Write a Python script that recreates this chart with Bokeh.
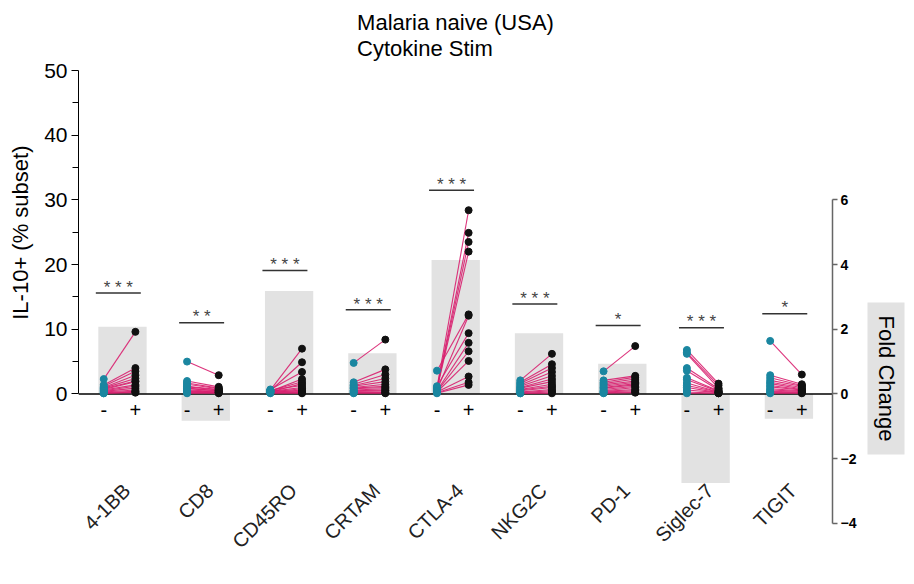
import math
from bokeh.plotting import figure
from bokeh.models import Range1d, LinearAxis, Title, FixedTicker
from bokeh.core.properties import value
from bokeh.embed import file_html
from bokeh.resources import INLINE

# ---------------- data ----------------
markers = ["4-1BB", "CD8", "CD45RO", "CRTAM", "CTLA-4", "NKG2C", "PD-1", "Siglec-7", "TIGIT"]
fold_change = [2.08, -0.83, 3.18, 1.26, 4.14, 1.88, 0.93, -2.75, -0.77]
sig_level = [15.6, 11.0, 19.1, 13.0, 31.5, 13.9, 10.6, 10.25, 12.4]
sig_text = ["* * *", "* *", "* * *", "* * *", "* * *", "* * *", "*", "* * *", "*"]

neg_4_1bb = [2.3, 1.4, 1.2, 1.0, 0.9, 0.8, 0.7, 0.6, 0.5, 0.4, 0.3, 0.2, 0.1, 0.1]
pos_4_1bb = [9.6, 4.0, 3.5, 2.9, 2.4, 2.0, 1.9, 1.4, 1.2, 0.9, 0.6, 0.4, 0.3, 0.2]
neg_cd8 = [5.0, 2.0, 1.7, 1.5, 1.2, 1.1, 0.9, 0.8, 0.6, 0.5, 0.4, 0.3, 0.2, 0.1]
pos_cd8 = [2.9, 1.1, 0.9, 0.8, 0.7, 0.6, 0.5, 0.5, 0.4, 0.3, 0.3, 0.2, 0.2, 0.1]
neg_cd45ro = [0.6, 0.5, 0.7, 0.4, 0.5, 0.3, 0.6, 0.4, 0.3, 0.2, 0.5, 0.3, 0.2, 0.1]
pos_cd45ro = [7.0, 4.9, 3.4, 2.3, 1.9, 1.6, 1.3, 1.0, 0.8, 0.6, 0.4, 0.3, 0.2, 0.1]
neg_crtam = [4.8, 1.8, 1.5, 1.3, 1.2, 1.0, 0.9, 0.8, 0.6, 0.5, 0.4, 0.3, 0.2, 0.1]
pos_crtam = [8.4, 3.8, 3.0, 2.4, 1.9, 1.5, 1.2, 1.0, 0.8, 0.6, 0.5, 0.3, 0.2, 0.1]
neg_ctla4 = [1.0, 0.9, 0.8, 0.7, 3.6, 0.6, 1.2, 0.5, 0.4, 0.3, 0.3, 0.2, 0.1]
pos_ctla4 = [28.4, 24.9, 23.5, 22.0, 12.3, 12.1, 9.4, 7.9, 6.6, 5.1, 2.7, 1.8, 1.4]
neg_nkg2c = [2.1, 1.8, 1.6, 1.4, 1.2, 1.0, 0.9, 0.7, 0.6, 0.5, 0.3, 0.2, 0.1, 0.1]
pos_nkg2c = [6.2, 4.6, 4.0, 3.4, 2.8, 2.3, 1.9, 1.5, 1.2, 1.0, 0.7, 0.5, 0.3, 0.1]
neg_pd1 = [3.5, 2.1, 1.8, 1.6, 1.4, 1.2, 1.0, 0.9, 0.7, 0.5, 0.4, 0.3, 0.2, 0.1]
pos_pd1 = [7.4, 2.8, 2.6, 2.3, 2.0, 1.8, 1.6, 1.4, 1.2, 1.0, 0.7, 0.5, 0.3, 0.2]
neg_siglec7 = [6.8, 6.4, 6.2, 4.0, 3.6, 2.5, 2.2, 1.7, 1.3, 1.0, 0.6, 0.3, 0.1]
pos_siglec7 = [1.6, 1.3, 0.9, 0.8, 0.6, 0.5, 0.4, 0.3, 0.3, 0.2, 0.2, 0.1, 0.1]
neg_tigit = [8.2, 2.9, 2.5, 2.1, 1.8, 1.6, 1.3, 1.1, 0.8, 0.6, 0.4, 0.2, 0.1]
pos_tigit = [3.0, 1.5, 1.3, 1.2, 1.0, 0.8, 0.7, 0.6, 0.5, 0.4, 0.3, 0.2, 0.1]

neg_values = [neg_4_1bb, neg_cd8, neg_cd45ro, neg_crtam, neg_ctla4, neg_nkg2c, neg_pd1, neg_siglec7, neg_tigit]
pos_values = [pos_4_1bb, pos_cd8, pos_cd45ro, pos_crtam, pos_ctla4, pos_nkg2c, pos_pd1, pos_siglec7, pos_tigit]

left_ticks = [0, 10, 20, 30, 40, 50]
left_minor = [5, 15, 25, 35, 45]
right_ticks = [-4, -2, 0, 2, 4, 6]

# ---------------- layout constants ----------------
FONT = "Liberation Sans"
X0, X1 = -0.528, 8.523
Y0, Y1 = -27.6, 50.0
RATIO = 5.0  # 1 fold unit = 5 % units
NEG_DX, POS_DX = -0.225, 0.155
TEAL = "#1a86a0"
PINK = "#d81e6e"
BAR = "#e2e2e2"

p = figure(width=912, height=576, x_range=Range1d(X0, X1), y_range=Range1d(Y0, Y1),
           output_backend="svg", toolbar_location=None,
           x_axis_location=None, y_axis_location=None,
           min_border_left=76, min_border_right=76, min_border_top=70, min_border_bottom=4)
p.extra_y_ranges = {"fold": Range1d(Y0 / RATIO, Y1 / RATIO)}
p.outline_line_color = None
p.background_fill_color = "white"
p.border_fill_color = "white"
p.xgrid.visible = False
p.ygrid.visible = False

idx = list(range(len(markers)))

# fold-change bars (right axis)
p.vbar(x=idx, top=fold_change, bottom=0, width=0.58, y_range_name="fold",
       fill_color=BAR, line_color=None)

# zero line
p.segment(x0=[X0], y0=[0], x1=[X1], y1=[0], line_color="black", line_width=1.5)

# paired lines and points
sx0, sy0, sx1, sy1 = [], [], [], []
nx, ny, px, py = [], [], [], []
for i in idx:
    for a, b in zip(neg_values[i], pos_values[i]):
        sx0.append(i + NEG_DX); sy0.append(a)
        sx1.append(i + POS_DX); sy1.append(b)
    nx += [i + NEG_DX] * len(neg_values[i]); ny += neg_values[i]
    px += [i + POS_DX] * len(pos_values[i]); py += pos_values[i]
p.segment(x0=sx0, y0=sy0, x1=sx1, y1=sy1, line_color=PINK, line_width=1.1, line_alpha=0.9)
p.scatter(x=nx, y=ny, size=7, fill_color=TEAL, line_color=TEAL)
p.scatter(x=px, y=py, size=7, fill_color="#111111", line_color="#111111")

# significance bars + stars
p.segment(x0=[i - 0.32 for i in idx], y0=sig_level, x1=[i + 0.22 for i in idx], y1=sig_level,
          line_color="#333333", line_width=1.5)
p.text(x=[i - 0.05 for i in idx], y=[s + 0.9 for s in sig_level], text=sig_text,
       text_align="center", text_baseline="alphabetic", text_font=value(FONT),
       text_font_size="17px", text_color="#444444")

# - / + labels under each group
p.text(x=[i + NEG_DX for i in idx], y=[-2.5] * len(idx), text=["-"] * len(idx),
       text_align="center", text_baseline="middle", text_font=value(FONT),
       text_font_size="20px", text_color="black")
p.text(x=[i + POS_DX for i in idx], y=[-2.5] * len(idx), text=["+"] * len(idx),
       text_align="center", text_baseline="middle", text_font=value(FONT),
       text_font_size="20px", text_color="black")

# category labels, rotated
p.text(x=[i + 0.05 for i in idx], y=[-14.4] * len(idx), text=markers, angle=math.pi / 4,
       text_align="right", text_baseline="middle", text_font=value(FONT),
       text_font_size="20px", text_color="#222222")

# left axis
ax = LinearAxis(bounds=(0, 50), ticker=FixedTicker(ticks=left_ticks, minor_ticks=left_minor))
ax.major_tick_out = 7; ax.major_tick_in = 0
ax.minor_tick_out = 6; ax.minor_tick_in = 0
ax.axis_line_color = "black"; ax.major_tick_line_color = "black"; ax.minor_tick_line_color = "black"
ax.major_label_text_font = FONT
ax.major_label_text_font_size = "21px"
ax.major_label_text_color = "black"
ax.major_label_standoff = 4
p.add_layout(ax, "left")

# right axis
ax2 = LinearAxis(y_range_name="fold", bounds=(-4, 6), ticker=FixedTicker(ticks=right_ticks))
ax2.major_tick_out = 5; ax2.major_tick_in = 0
ax2.minor_tick_line_color = None
ax2.axis_line_color = "#666666"; ax2.axis_line_width = 1.5
ax2.major_tick_line_color = "#666666"; ax2.major_tick_line_width = 1.5
ax2.major_label_text_font = FONT
ax2.major_label_text_font_style = "bold"
ax2.major_label_text_font_size = "14px"
ax2.major_label_text_color = "black"
ax2.major_label_standoff = 3
p.add_layout(ax2, "right")

# titles
p.title.text = "Malaria naive (USA)\nCytokine Stim"
p.title.align = "center"
p.title.vertical_align = "top"
p.title.text_font = FONT
p.title.text_font_size = "22px"
p.title.text_font_style = "normal"
p.title.text_color = "black"
p.title.text_line_height = 1.07
p.title.standoff = 14

ytitle = Title(text="IL-10+ (% subset)", align="right", offset=75, vertical_align="top",
               text_font=FONT, text_font_size="22px", text_font_style="normal",
               text_color="black", standoff=14)
p.add_layout(ytitle, "left")

ftitle = Title(text="Fold Change", align="left", offset=232, vertical_align="middle",
               text_font=FONT, text_font_size="22px", text_font_style="normal",
               text_color="black", standoff=0, background_fill_color=BAR, padding=(13, 6))
p.add_layout(ftitle, "right")

open("out.html", "w").write(file_html(p, INLINE))
